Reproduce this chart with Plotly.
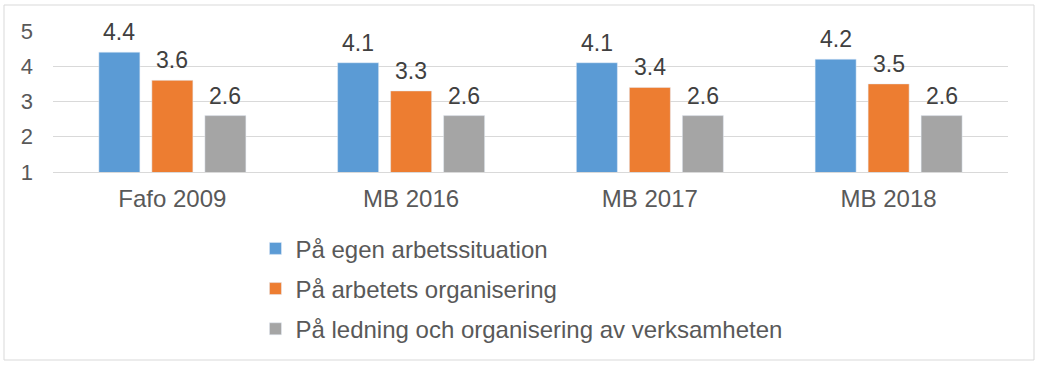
import plotly.graph_objects as go

categories = ["Fafo 2009", "MB 2016", "MB 2017", "MB 2018"]
series_names = [
    "På egen arbetssituation",
    "På arbetets organisering",
    "På ledning och organisering av verksamheten",
]
egen = [4.4, 4.1, 4.1, 4.2]
organisering = [3.6, 3.3, 3.4, 3.5]
ledning = [2.6, 2.6, 2.6, 2.6]
colors = ["#5B9BD5", "#ED7D31", "#A5A5A5"]
all_series = [egen, organisering, ledning]

W, H = 1039, 369
ML, MR, MT, MB = 53, 31, 31, 197
BARGAP, GROUPGAP = 0.334, 0.226

fig = go.Figure()
for i, (name, vals) in enumerate(zip(series_names, all_series)):
    fig.add_trace(go.Bar(
        x=categories, y=vals, name=name, marker_color=colors[i],
        legendgroup=f"g{i}",
    ))

# data labels above bars, positioned from the data values
plot_w = W - ML - MR
cat_w = plot_w / len(categories)
slot = cat_w * (1 - BARGAP) / len(all_series)
for i, vals in enumerate(all_series):
    for c, v in zip(categories, vals):
        fig.add_annotation(
            x=c, y=v, xref="x", yref="y", text=f"{v:.1f}", showarrow=False,
            xanchor="center", yanchor="bottom", xshift=(i - 1) * slot, yshift=5,
            font=dict(size=23, color="#404040"),
        )

fig.update_layout(
    width=W, height=H,
    margin=dict(l=ML, r=MR, t=MT, b=MB, autoexpand=False),
    paper_bgcolor="white", plot_bgcolor="white",
    font=dict(family="Liberation Sans, Arial, sans-serif", color="#595959", size=24),
    barmode="group", bargap=BARGAP, bargroupgap=GROUPGAP,
    showlegend=True,
    legend=dict(orientation="v", x=0.212, xanchor="left", y=-0.385, yanchor="top",
                font=dict(size=24, color="#595959"), tracegroupgap=6,
                itemwidth=30, bgcolor="rgba(0,0,0,0)"),
)
fig.update_yaxes(range=[1, 5], tickvals=[1, 2, 3, 4, 5], showgrid=True,
                 gridcolor="#D9D9D9", gridwidth=1, zeroline=False,
                 tickfont=dict(size=22, color="#595959"), ticks="",
                 ticklabelstandoff=19)
fig.update_xaxes(showline=True, linecolor="#D9D9D9", ticks="",
                 tickfont=dict(size=24, color="#595959"), ticklabelstandoff=5)
fig.add_shape(type="rect", xref="paper", yref="paper",
              x0=(4 - ML) / plot_w, x1=(1034 - ML) / plot_w,
              y0=(H - MB - 360) / (H - MT - MB), y1=(H - MB - 5) / (H - MT - MB),
              line=dict(color="#D9D9D9", width=1), fillcolor="rgba(0,0,0,0)", layer="below")

fig.write_html("out.html", config={"displayModeBar": False},
               post_script="document.body.style.margin='0';")
